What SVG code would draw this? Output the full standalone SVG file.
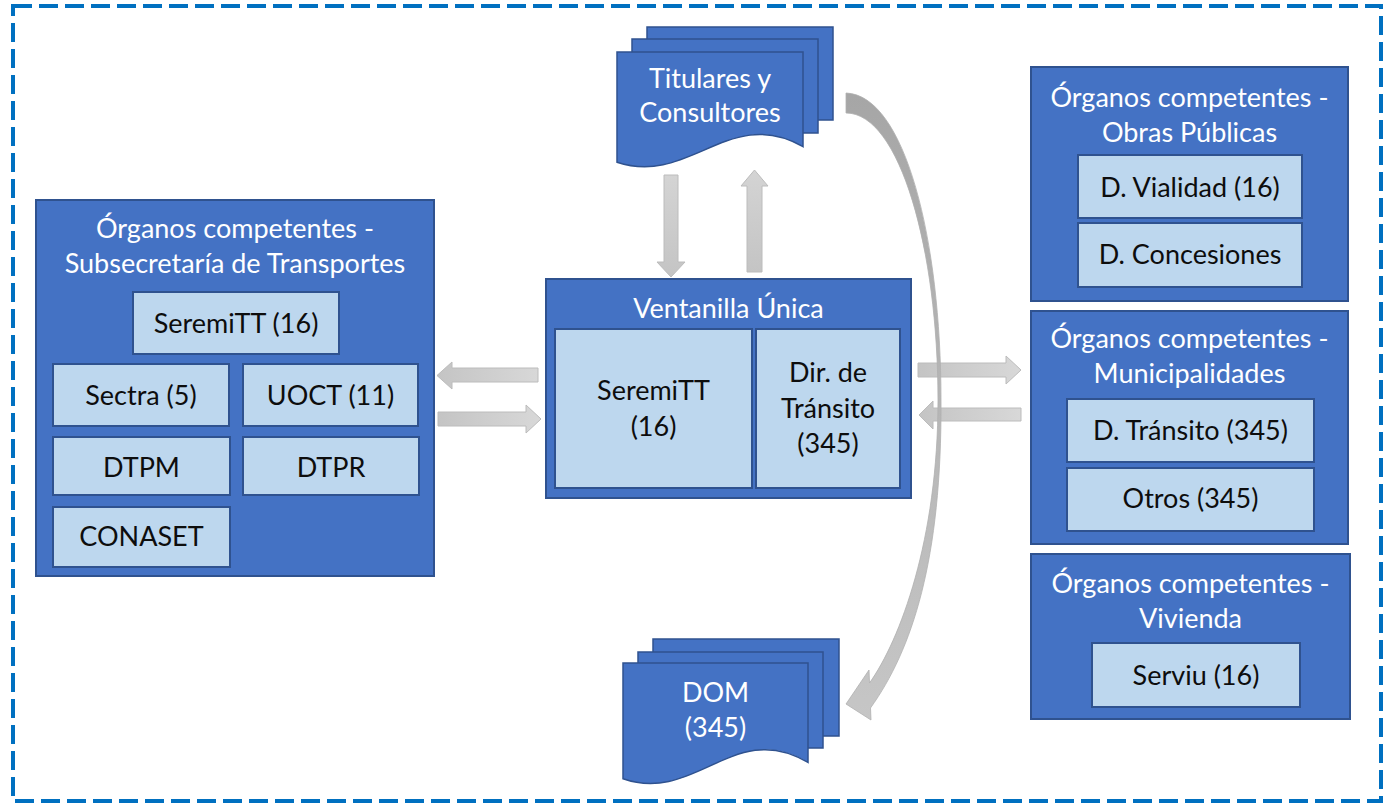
<svg xmlns="http://www.w3.org/2000/svg" width="1392" height="803" viewBox="0 0 1392 803">
<defs>
<linearGradient id="gv" x1="0" y1="0" x2="0" y2="1"><stop offset="0" stop-color="#D4D4D4"/><stop offset="1" stop-color="#C4C4C4"/></linearGradient>
<linearGradient id="gh" x1="0" y1="0" x2="1" y2="0"><stop offset="0" stop-color="#C4C4C4"/><stop offset="1" stop-color="#D8D8D8"/></linearGradient>
<linearGradient id="gc" x1="0" y1="0" x2="0" y2="1"><stop offset="0" stop-color="#A6A6A6"/><stop offset="1" stop-color="#C6C6C6"/></linearGradient>
<style>
.outer{fill:#4472C4;stroke:#2F528F;stroke-width:2}
.inner{fill:#BDD7EE;stroke:#2F528F;stroke-width:2}
.doc{fill:#4472C4;stroke:#2F528F;stroke-width:1.5}
.t{font-family:Lato,"Liberation Sans",sans-serif;font-size:27px;text-anchor:middle}
.w{fill:#FFFFFF}
.b{fill:#0D0D0D}
.arr{stroke:#BCBCBC;stroke-width:1}
</style>
</defs>
<rect x="13" y="6" width="1368" height="795" fill="none" stroke="#0070C0" stroke-width="4" stroke-dasharray="19 7"/>

<g id="connectors">
<polygon class="arr" fill="url(#gv)" points="664,175 678,175 678,262 685,262 671,277 657,262 664,262"/>
<polygon class="arr" fill="url(#gv)" points="747,272 762,272 762,186 768,186 754.5,170 741,186 747,186"/>
<polygon class="arr" fill="url(#gh)" points="538,368 538,382 452,382 452,389 437,375.5 452,362 452,368"/>
<polygon class="arr" fill="url(#gh)" points="438,412 526,412 526,405 541,419 526,433 526,426 438,426"/>
<polygon class="arr" fill="url(#gh)" points="918,363 1006,363 1006,356 1021,370 1006,384 1006,377 918,377"/>
<polygon class="arr" fill="url(#gh)" points="1021,408 1021,421 933,421 933,429 919,415 933,401 933,408"/>
<path fill="url(#gc)" stroke="#B0B0B0" stroke-width="0.8" d="M846,93 C905,95 941,240 941,400 C942,560 912,650 870.5,708 L871,720 L846,704 L869,670 L869.5,683 C900,640 938,540 938,400 C938,250 900,113 846,113 Z"/>
</g>

<g id="titulares">
<rect class="doc" x="647" y="27" width="186" height="93"/>
<rect class="doc" x="632" y="39" width="186" height="94"/>
<path class="doc" d="M617,52 H803 V146.6 C729.3,104.7 689.4,186.4 617,162.2 Z"/>
<text class="t w" x="710" y="88">Titulares y</text>
<text class="t w" x="710" y="122">Consultores</text>
</g>

<g id="dom">
<rect class="doc" x="653" y="639" width="186" height="97"/>
<rect class="doc" x="638" y="652" width="185" height="96"/>
<path class="doc" d="M623,663 H808 V762.4 C734.7,718.4 695,804.2 623,778.8 Z"/>
<text class="t w" x="715.5" y="702">DOM</text>
<text class="t w" x="715.5" y="737">(345)</text>
</g>

<g id="subtrans">
<rect class="outer" x="36" y="200" width="398" height="376"/>
<text class="t w" x="235" y="238">Órganos competentes -</text>
<text class="t w" x="235" y="273">Subsecretaría de Transportes</text>
<rect class="inner" x="133" y="292" width="206" height="62"/>
<text class="t b" x="236" y="333">SeremiTT (16)</text>
<rect class="inner" x="53" y="364" width="176" height="62"/>
<text class="t b" x="141" y="405">Sectra (5)</text>
<rect class="inner" x="243" y="364" width="175" height="62"/>
<text class="t b" x="330.5" y="405">UOCT (11)</text>
<rect class="inner" x="53" y="437" width="177" height="58"/>
<text class="t b" x="141.5" y="477">DTPM</text>
<rect class="inner" x="243" y="437" width="176" height="58"/>
<text class="t b" x="331" y="477">DTPR</text>
<rect class="inner" x="53" y="507" width="177" height="60"/>
<text class="t b" x="141.5" y="546">CONASET</text>
</g>

<g id="ventanilla">
<rect class="outer" x="546" y="279" width="365" height="219"/>
<text class="t w" x="728.5" y="318">Ventanilla Única</text>
<rect class="inner" x="555" y="329" width="197" height="159"/>
<text class="t b" x="653.5" y="400">SeremiTT</text>
<text class="t b" x="653.5" y="436">(16)</text>
<rect class="inner" x="756" y="329" width="144" height="159"/>
<text class="t b" x="828" y="382">Dir. de</text>
<text class="t b" x="828" y="418">Tránsito</text>
<text class="t b" x="828" y="453">(345)</text>
</g>

<g id="obras">
<rect class="outer" x="1031" y="67" width="317" height="234"/>
<text class="t w" x="1189.5" y="107">Órganos competentes -</text>
<text class="t w" x="1189.5" y="142">Obras Públicas</text>
<rect class="inner" x="1078" y="155" width="224" height="63"/>
<text class="t b" x="1190" y="197">D. Vialidad (16)</text>
<rect class="inner" x="1078" y="223" width="224" height="64"/>
<text class="t b" x="1190" y="264">D. Concesiones</text>
</g>

<g id="municipalidades">
<rect class="outer" x="1031" y="311" width="317" height="233"/>
<text class="t w" x="1189.5" y="348">Órganos competentes -</text>
<text class="t w" x="1189.5" y="383">Municipalidades</text>
<rect class="inner" x="1067" y="399" width="247" height="63"/>
<text class="t b" x="1190.5" y="440">D. Tránsito (345)</text>
<rect class="inner" x="1067" y="468" width="247" height="63"/>
<text class="t b" x="1190.5" y="508">Otros (345)</text>
</g>

<g id="vivienda">
<rect class="outer" x="1031" y="554" width="319" height="165"/>
<text class="t w" x="1190.5" y="593">Órganos competentes -</text>
<text class="t w" x="1190.5" y="628">Vivienda</text>
<rect class="inner" x="1092" y="643" width="208" height="64"/>
<text class="t b" x="1196" y="685">Serviu (16)</text>
</g>
</svg>
